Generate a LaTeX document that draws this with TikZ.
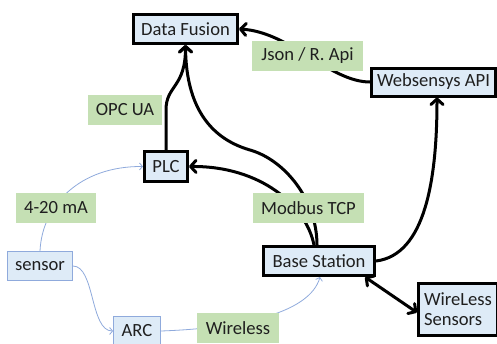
\documentclass[tikz,border=0pt]{standalone}
\usepackage{fontspec}
\setmainfont{Carlito}
\usetikzlibrary{arrows.meta,backgrounds}
\definecolor{boxfill}{HTML}{DEEBF7}
\definecolor{lblfill}{HTML}{C5E0B4}
\definecolor{thinline}{HTML}{8FAADC}
\definecolor{txt}{HTML}{1F1F1F}
\begin{document}
\begin{tikzpicture}[x=1pt,y=-1pt,
  font=\fontsize{18.6}{20}\selectfont, text=txt,
  mainbox/.style={draw=black, line width=3pt, fill=boxfill, inner sep=0pt},
  thinbox/.style={draw=thinline, line width=0.8pt, fill=boxfill, inner sep=0pt},
  lbl/.style={fill=lblfill, inner sep=0pt},
  conn/.style={draw=black, line width=3pt, line cap=round,
    -{Straight Barb[length=5.5pt,width=12pt,line join=round,line cap=round]}},
  biconn/.style={draw=black, line width=3pt,
    {Straight Barb[length=5.5pt,width=12pt,line join=round,line cap=round]}-{Straight Barb[length=5.5pt,width=12pt,line join=round,line cap=round]}},
  thinconn/.style={draw=thinline, line width=0.8pt, -{Straight Barb[length=3pt,width=7pt]}}]
\useasboundingbox (0,0) rectangle (497,343);

% main boxes
\node[mainbox, minimum width=104, minimum height=29] (df) at (185.5,29) {Data Fusion};
\node[mainbox, minimum width=124, minimum height=28] (ws) at (433.5,82) {Websensys API};
\node[mainbox, minimum width=43, minimum height=30] (plc) at (166,166.5) {PLC};
\node[mainbox, minimum width=111, minimum height=29] (bs) at (319,261) {Base Station};
\node[mainbox, minimum width=79, minimum height=52, align=left] (wls) at (458,309.5) {WireLess\\Sensors};
\node[thinbox, minimum width=65, minimum height=29] (sensor) at (40,266) {sensor};
\node[thinbox, minimum width=47, minimum height=29] (arc) at (137,331) {ARC};

% labels
\node[lbl, minimum width=74, minimum height=30] (opc) at (125,110) {OPC UA};
\node[lbl, minimum width=111, minimum height=30] (json) at (307.5,56) {Json / R. Api};
\node[lbl, minimum width=80, minimum height=30] (ma) at (56,208) {4-20 mA};
\node[lbl, minimum width=111, minimum height=30] (modbus) at (308.5,208) {Modbus TCP};
\node[lbl, minimum width=82, minimum height=30] (wireless) at (238,328) {Wireless};

\begin{scope}[on background layer]
  \draw[conn] (plc.north) -- (166,110) .. controls (166,85) and (185.5,88) .. (df.south);
  \draw[conn] ([xshift=-2]bs.north) .. controls (317,200) and (285,160) .. (250,150)
        .. controls (205,137) and (186,100) .. (df.south);
  \draw[conn] ([xshift=-5]bs.north) .. controls (306,205) and (260,166) .. (plc.east);
  \draw[conn] (bs.east) .. controls (425,255) and (437,180) .. ([xshift=3.5]ws.south);
  \draw[conn] (ws.west) .. controls (330,82) and (290,32) .. (df.east);
  \draw[biconn] ([xshift=-11]bs.south east) -- ([yshift=-3]wls.west);
  \draw[thinconn] (sensor.north) .. controls (42,205) and (80,166) .. (plc.west);
  \draw[thinconn] (sensor.east) .. controls (95,266) and (90,331) .. (arc.west);
  \draw[thinconn] (arc.east) .. controls (245,328) and (310,312) .. ([xshift=1]bs.south);
\end{scope}
\end{tikzpicture}
\end{document}
